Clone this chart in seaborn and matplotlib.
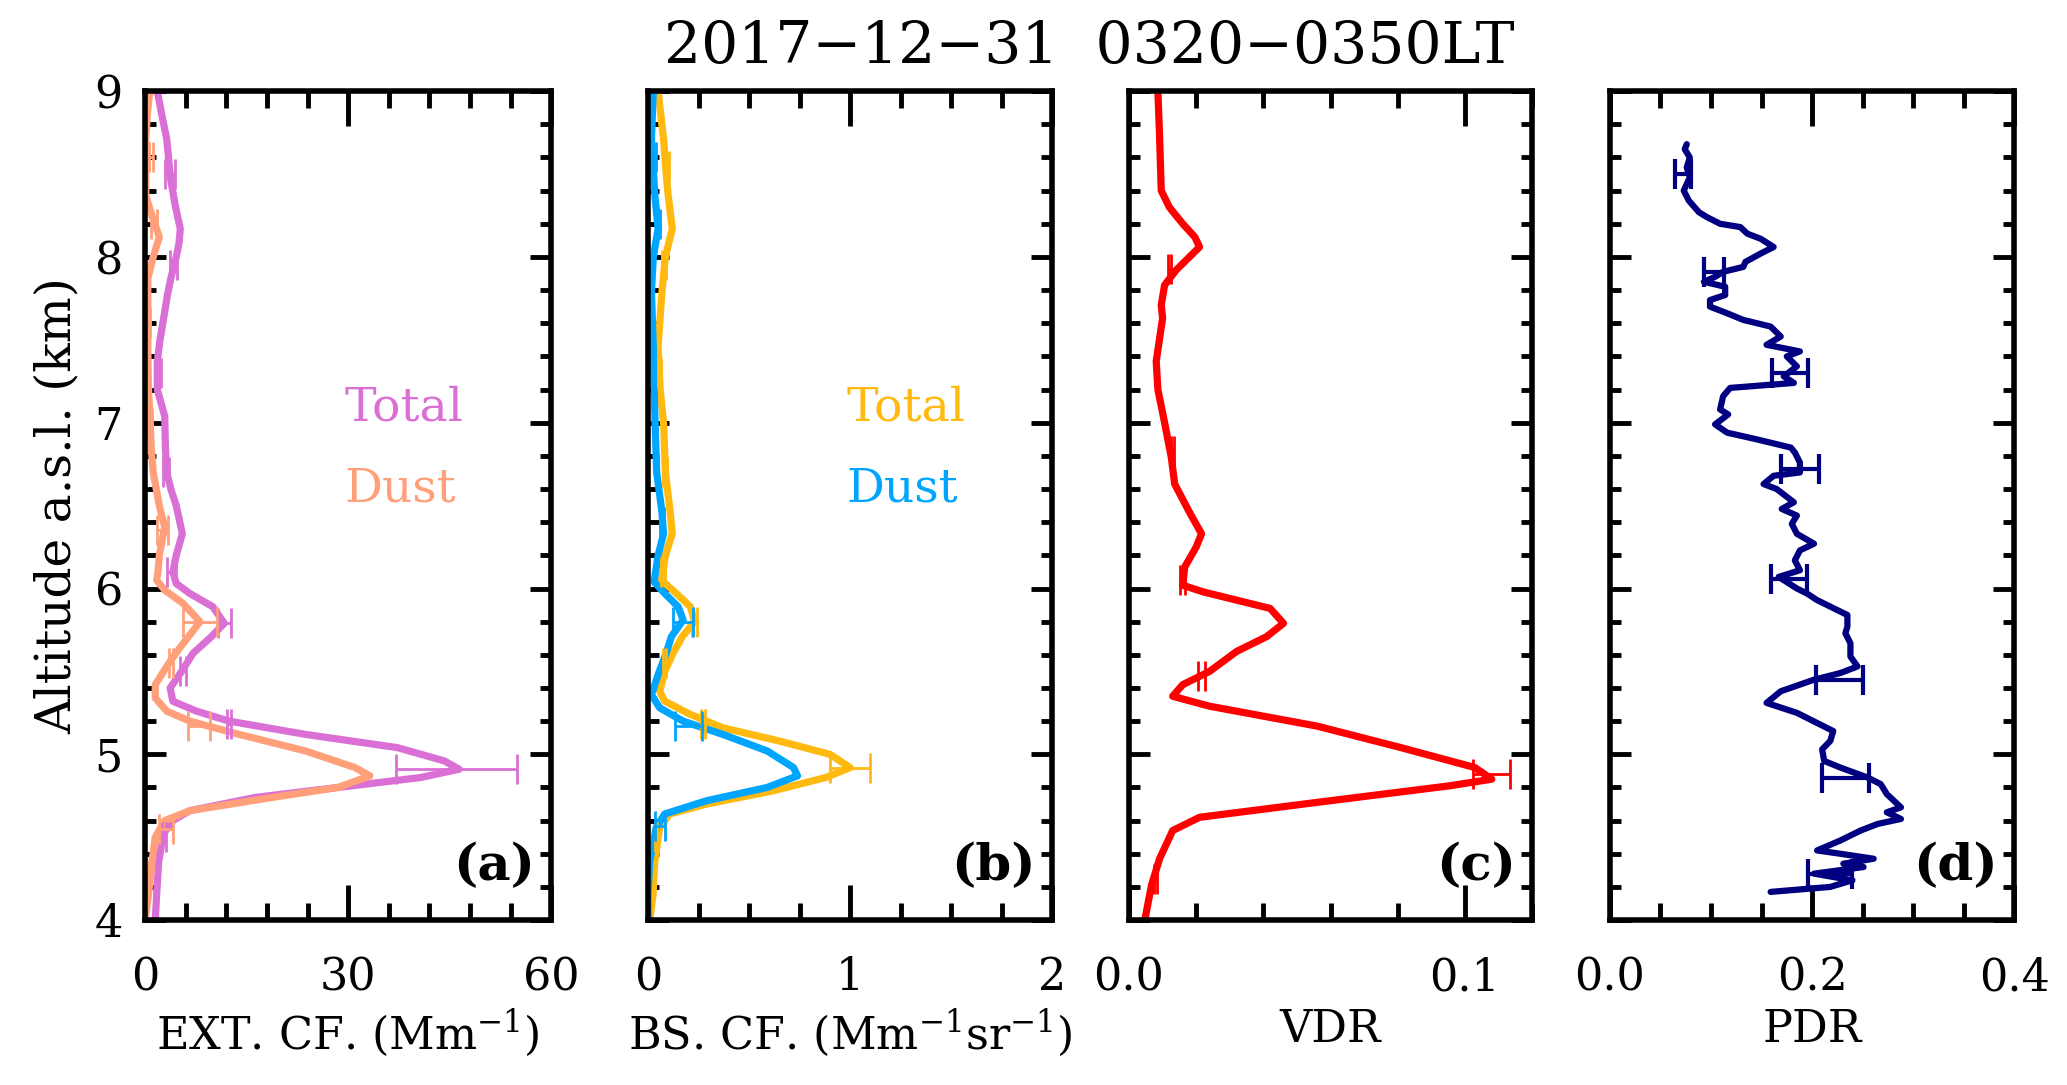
import numpy as np
import matplotlib
matplotlib.use('Agg')
import matplotlib.pyplot as plt
from matplotlib.ticker import MultipleLocator, FormatStrFormatter
import seaborn as sns

# ---- data ----
# (a) extinction coefficient, Mm-1
ext_total_alt = [9.0, 8.85, 8.71, 8.58, 8.46, 8.3, 8.17, 8.08, 8.0, 7.87, 7.77, 7.67, 7.5, 7.37, 7.2,
                 7.04, 6.85, 6.7, 6.6, 6.5, 6.33, 6.2, 6.1, 6.03, 5.97, 5.89, 5.79, 5.71, 5.61, 5.5,
                 5.4, 5.32, 5.26, 5.2, 5.12, 5.04, 4.96, 4.91, 4.86, 4.8, 4.74, 4.66, 4.6, 4.52,
                 4.35, 4.15, 4.0]
ext_total = [1.8, 2.5, 3.2, 3.5, 3.8, 4.5, 5.2, 5.0, 4.6, 3.8, 3.3, 2.9, 2.2, 1.8, 1.8,
             2.9, 3.0, 3.2, 3.8, 4.6, 5.5, 4.6, 4.1, 4.6, 6.6, 10.0, 11.7, 9.8, 7.1, 5.4,
             3.7, 4.1, 7.6, 12.4, 23.7, 37.3, 44.2, 46.4, 40.7, 28.5, 16.3, 6.6, 4.1, 2.7,
             2.0, 1.7, 1.5]
ext_dust_alt = [9.0, 8.85, 8.71, 8.5, 8.37, 8.25, 8.12, 8.0, 7.87, 7.6, 7.46, 7.2, 7.04, 6.85, 6.7,
                6.5, 6.37, 6.2, 6.1, 6.05, 5.99, 5.91, 5.8, 5.73, 5.63, 5.53, 5.42, 5.34, 5.26,
                5.2, 5.12, 5.02, 4.92, 4.87, 4.8, 4.74, 4.66, 4.6, 4.5, 4.35, 4.15, 4.0]
ext_dust = [0.7, 0.3, 0.1, 0.1, 0.1, 1.0, 2.1, 1.2, 0.4, 0.4, 0.4, 0.5, 0.7, 0.9, 1.2,
            2.1, 2.9, 2.1, 1.9, 1.7, 2.9, 5.6, 8.1, 6.8, 4.9, 3.2, 1.5, 1.5, 3.2,
            6.6, 13.9, 23.7, 31.0, 33.2, 28.5, 18.8, 6.6, 2.9, 1.5, 1.0, 0.5, 0.0]
ext_total_err_alt = [8.5, 7.95, 7.3, 6.7, 6.1, 5.79, 5.5, 5.18, 4.91, 4.5]
ext_total_err_val = [3.7, 4.2, 2.0, 3.1, 3.9, 11.7, 5.6, 12.4, 46.0, 2.8]
ext_total_err = [0.7, 0.5, 0.3, 0.4, 0.7, 1.0, 0.4, 0.3, 9.0, 0.3]
ext_dust_err_alt = [8.6, 8.2, 7.6, 7.0, 6.35, 5.8, 5.55, 5.17, 4.55]
ext_dust_err_val = [0.9, 1.3, 0.4, 0.7, 2.6, 8.1, 3.8, 8.0, 3.1]
ext_dust_err = [0.3, 0.4, 0.3, 0.3, 0.8, 2.5, 0.3, 1.6, 1.0]

# (b) backscatter coefficient, Mm-1 sr-1
bsc_total_alt = [9.0, 8.71, 8.5, 8.37, 8.17, 8.0, 7.79, 7.46, 7.2, 7.0, 6.7, 6.46, 6.33, 6.2, 6.08,
                 6.05, 5.97, 5.89, 5.8, 5.71, 5.61, 5.5, 5.38, 5.32, 5.24, 5.16, 5.08, 5.0, 4.92,
                 4.86, 4.78, 4.7, 4.64, 4.56, 4.35, 4.15, 4.0]
bsc_total = [0.05, 0.077, 0.09, 0.1, 0.12, 0.086, 0.069, 0.05, 0.06, 0.077, 0.086, 0.11, 0.12, 0.086, 0.072,
             0.066, 0.14, 0.21, 0.23, 0.17, 0.124, 0.083, 0.058, 0.083, 0.21, 0.37, 0.65, 0.9, 1.0,
             0.88, 0.62, 0.29, 0.107, 0.058, 0.033, 0.025, 0.008]
bsc_dust_alt = [9.0, 8.71, 8.37, 8.17, 8.0, 7.79, 7.46, 7.04, 6.7, 6.46, 6.33, 6.2, 6.04, 5.97, 5.89,
                5.81, 5.71, 5.61, 5.48, 5.36, 5.28, 5.2, 5.12, 5.02, 4.92, 4.87, 4.8, 4.72, 4.64,
                4.56, 4.35, 4.15, 4.0]
bsc_dust = [0.026, 0.017, 0.034, 0.05, 0.026, 0.017, 0.026, 0.034, 0.043, 0.069, 0.077, 0.05, 0.03, 0.083, 0.149,
            0.174, 0.116, 0.09, 0.05, 0.017, 0.058, 0.174, 0.37, 0.59, 0.72, 0.74, 0.59, 0.29, 0.083,
            0.041, 0.008, 0.0, 0.0]
bsc_total_err_alt = [8.55, 7.95, 7.3, 6.7, 6.1, 5.8, 5.55, 5.18, 4.92, 4.5]
bsc_total_err_val = [0.095, 0.08, 0.055, 0.086, 0.075, 0.23, 0.083, 0.27, 1.0, 0.04]
bsc_total_err = [0.01, 0.01, 0.008, 0.01, 0.01, 0.012, 0.008, 0.01, 0.1, 0.006]
bsc_dust_err_alt = [8.6, 8.2, 7.6, 6.4, 5.8, 5.17, 4.57]
bsc_dust_err_val = [0.03, 0.05, 0.02, 0.07, 0.174, 0.2, 0.058]
bsc_dust_err = [0.008, 0.01, 0.006, 0.01, 0.05, 0.065, 0.025]

# (c) volume depolarization ratio
vdr_alt = [9.0, 8.73, 8.4, 8.3, 8.2, 8.12, 8.06, 8.0, 7.92, 7.83, 7.71, 7.63, 7.37, 7.2, 7.0,
           6.79, 6.63, 6.46, 6.33, 6.25, 6.13, 6.02, 5.98, 5.88, 5.79, 5.71, 5.62, 5.5, 5.42,
           5.35, 5.29, 5.17, 5.04, 4.92, 4.85, 4.81, 4.71, 4.62, 4.54, 4.37, 4.21, 4.0]
vdr = [0.0086, 0.0091, 0.0096, 0.012, 0.016, 0.0196, 0.021, 0.018, 0.014, 0.0106, 0.0096, 0.010, 0.0081, 0.0086, 0.0106,
       0.0126, 0.0136, 0.018, 0.0216, 0.020, 0.0166, 0.016, 0.022, 0.042, 0.046, 0.041, 0.032, 0.024, 0.016,
       0.013, 0.024, 0.056, 0.081, 0.103, 0.108, 0.0955, 0.056, 0.021, 0.013, 0.0091, 0.0067, 0.0047]
vdr_err_alt = [7.93, 6.83, 6.05, 5.47, 4.88, 4.25]
vdr_err_val = [0.012, 0.013, 0.016, 0.0215, 0.108, 0.0079]
vdr_err = [0.0005, 0.0005, 0.0007, 0.001, 0.0055, 0.0005]

# (d) particle depolarization ratio
pdr_alt = [8.68, 8.65, 8.6, 8.54, 8.48, 8.4, 8.34, 8.27, 8.24, 8.2, 8.18, 8.14, 8.11, 8.06, 8.02,
           7.97, 7.94, 7.91, 7.88, 7.85, 7.82, 7.77, 7.74, 7.7, 7.66, 7.62, 7.58, 7.52, 7.47,
           7.43, 7.4, 7.34, 7.28, 7.24, 7.21, 7.16, 7.08, 7.05, 6.99, 6.94, 6.9, 6.85, 6.82,
           6.76, 6.7, 6.68, 6.63, 6.6, 6.52, 6.48, 6.44, 6.39, 6.33, 6.27, 6.23, 6.17, 6.11,
           6.07, 6.0, 5.97, 5.93, 5.87, 5.84, 5.77, 5.73, 5.67, 5.59, 5.53, 5.49, 5.45, 5.38,
           5.31, 5.25, 5.14, 5.08, 5.03, 4.96, 4.92, 4.86, 4.82, 4.76, 4.68, 4.65, 4.61, 4.58,
           4.54, 4.48, 4.42, 4.4, 4.37, 4.34, 4.32, 4.28, 4.24, 4.2, 4.17]
pdr = [0.076, 0.074, 0.079, 0.076, 0.079, 0.073, 0.078, 0.088, 0.096, 0.109, 0.129, 0.136, 0.149, 0.162, 0.149,
       0.134, 0.132, 0.112, 0.104, 0.093, 0.114, 0.114, 0.099, 0.099, 0.116, 0.132, 0.159, 0.169, 0.155,
       0.188, 0.175, 0.185, 0.172, 0.182, 0.119, 0.112, 0.109, 0.117, 0.104, 0.116, 0.145, 0.179, 0.183,
       0.188, 0.188, 0.162, 0.152, 0.165, 0.182, 0.170, 0.185, 0.180, 0.185, 0.202, 0.188, 0.183, 0.188,
       0.167, 0.185, 0.195, 0.205, 0.225, 0.235, 0.235, 0.233, 0.238, 0.238, 0.245, 0.228, 0.202, 0.169,
       0.155, 0.185, 0.221, 0.218, 0.210, 0.212, 0.228, 0.255, 0.268, 0.274, 0.288, 0.274, 0.288, 0.265,
       0.248, 0.228, 0.205, 0.228, 0.261, 0.231, 0.251, 0.202, 0.240, 0.218, 0.159]
pdr_err_alt = [8.5, 7.91, 7.3, 6.72, 6.06, 5.45, 4.86, 4.28]
pdr_err_val = [0.072, 0.103, 0.178, 0.188, 0.177, 0.227, 0.233, 0.218]
pdr_err = [0.008, 0.01, 0.018, 0.019, 0.018, 0.023, 0.023, 0.022]

title = '2017\u221212\u221231  0320\u22120350LT'

# ---- style ----
sns.set_style('ticks')
plt.rcParams['font.family'] = ['DejaVu Serif']
plt.rcParams['mathtext.fontset'] = 'dejavuserif'
for key in ['text.color', 'axes.labelcolor', 'axes.edgecolor', 'xtick.color', 'ytick.color']:
    plt.rcParams[key] = 'black'

fig = plt.figure(figsize=(20.67, 10.85), dpi=100)
bottom, height = 0.152, 0.764
lefts = [0.0702, 0.3135, 0.5462, 0.7789]
widths = [0.1965, 0.1955, 0.195, 0.1955]
axes = [fig.add_axes([l, bottom, w, height]) for l, w in zip(lefts, widths)]

def style_axis(ax, xlim, major, minor, fmt, xlabel, letter, show_y):
    ax.set_xlim(*xlim)
    ax.set_ylim(4, 9)
    ax.xaxis.set_major_locator(MultipleLocator(major))
    ax.xaxis.set_minor_locator(MultipleLocator(minor))
    ax.xaxis.set_major_formatter(FormatStrFormatter(fmt))
    ax.yaxis.set_major_locator(MultipleLocator(1))
    ax.yaxis.set_minor_locator(MultipleLocator(0.2))
    ax.tick_params(axis='x', which='major', direction='in', length=25, width=3.5,
                   top=True, bottom=True, labelsize=32, pad=26)
    ax.tick_params(axis='x', which='minor', direction='in', length=12, width=3.5,
                   top=True, bottom=True)
    ax.tick_params(axis='y', which='major', direction='in', length=15, width=3.5,
                   left=True, right=True, labelsize=32, pad=16, labelleft=show_y)
    ax.tick_params(axis='y', which='minor', direction='in', length=8, width=3.5,
                   left=True, right=True)
    ax.set_xlabel(xlabel, fontsize=32, labelpad=6)
    ax.set_ylabel('')
    for s in ax.spines.values():
        s.set_linewidth(4)
        s.set_color('black')
    ax.text(0.96, 0.065, letter, transform=ax.transAxes, ha='right', va='center',
            fontsize=37, fontweight='bold')

lw = 5.2
ax = axes[0]
sns.lineplot(x=ext_total, y=ext_total_alt, sort=False, estimator=None, color='#DA70D6', lw=lw, ax=ax)
sns.lineplot(x=ext_dust, y=ext_dust_alt, sort=False, estimator=None, color='#FFA07A', lw=lw, ax=ax)
ax.errorbar(ext_total_err_val, ext_total_err_alt, xerr=ext_total_err, fmt='none', ecolor='#DA70D6',
            elinewidth=2, capsize=11, capthick=2)
ax.errorbar(ext_dust_err_val, ext_dust_err_alt, xerr=ext_dust_err, fmt='none', ecolor='#FFA07A',
            elinewidth=2, capsize=11, capthick=2)
style_axis(ax, (0, 60), 30, 6, '%d', 'EXT. CF. (Mm$^{-1}$)', '(a)', True)
ax.set_ylabel('Altitude a.s.l. (km)', fontsize=35, labelpad=10)
ax.text(0.49, 0.618, 'Total', transform=ax.transAxes, color='#DA70D6', fontsize=34, va='center')
ax.text(0.49, 0.52, 'Dust', transform=ax.transAxes, color='#FFA07A', fontsize=34, va='center')

ax = axes[1]
sns.lineplot(x=bsc_total, y=bsc_total_alt, sort=False, estimator=None, color='#FFB90F', lw=lw, ax=ax)
sns.lineplot(x=bsc_dust, y=bsc_dust_alt, sort=False, estimator=None, color='#00A5FF', lw=lw, ax=ax)
ax.errorbar(bsc_total_err_val, bsc_total_err_alt, xerr=bsc_total_err, fmt='none', ecolor='#FFB90F',
            elinewidth=2, capsize=11, capthick=2)
ax.errorbar(bsc_dust_err_val, bsc_dust_err_alt, xerr=bsc_dust_err, fmt='none', ecolor='#00A5FF',
            elinewidth=2, capsize=11, capthick=2)
style_axis(ax, (0, 2), 1, 0.25, '%d', 'BS. CF. (Mm$^{-1}$sr$^{-1}$)', '(b)', False)
ax.text(0.49, 0.618, 'Total', transform=ax.transAxes, color='#FFB90F', fontsize=34, va='center')
ax.text(0.49, 0.52, 'Dust', transform=ax.transAxes, color='#00A5FF', fontsize=34, va='center')

ax = axes[2]
sns.lineplot(x=vdr, y=vdr_alt, sort=False, estimator=None, color='#FF0000', lw=lw, ax=ax)
ax.errorbar(vdr_err_val, vdr_err_alt, xerr=vdr_err, fmt='none', ecolor='#FF0000',
            elinewidth=2, capsize=11, capthick=2)
style_axis(ax, (0, 0.12), 0.1, 0.02, '%.1f', 'VDR', '(c)', False)

ax = axes[3]
sns.lineplot(x=pdr, y=pdr_alt, sort=False, estimator=None, color='#000080', lw=4.5, ax=ax)
ax.errorbar(pdr_err_val, pdr_err_alt, xerr=pdr_err, fmt='none', ecolor='#000080',
            elinewidth=3, capsize=11, capthick=3)
style_axis(ax, (0, 0.4), 0.2, 0.05, '%.1f', 'PDR', '(d)', False)

fig.text(0.527, 0.957, title, ha='center', va='center', fontsize=42)

fig.savefig('out.png', dpi=100)
plt.close(fig)
